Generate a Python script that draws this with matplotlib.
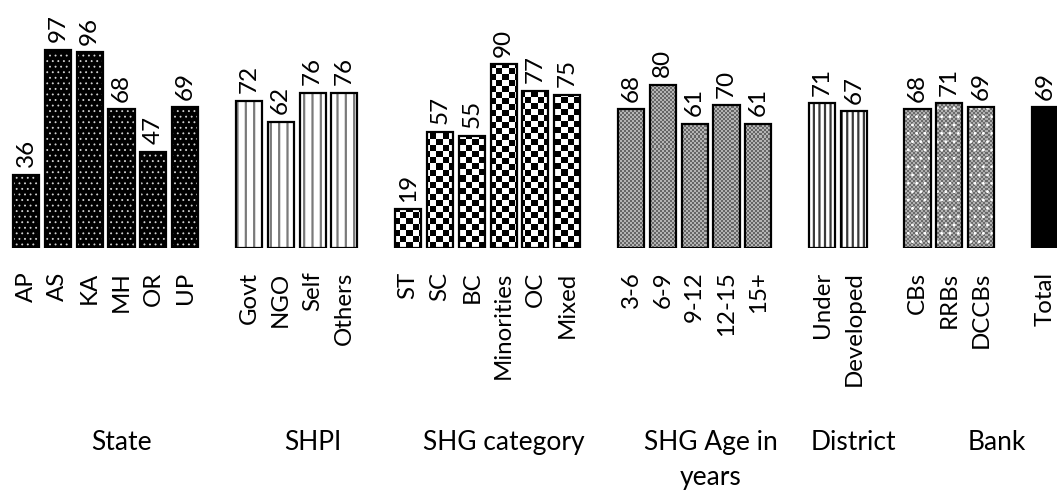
import numpy as np
import matplotlib
matplotlib.use("Agg")
import matplotlib.pyplot as plt
import matplotlib.transforms as mtransforms

plt.rcParams['font.family'] = ['Lato', 'DejaVu Sans']
plt.rcParams['hatch.linewidth'] = 1.5

# ---------------- data ----------------
group_names = ["State", "SHPI", "SHG category", "SHG Age in\nyears", "District", "Bank", ""]

state_labels = ["AP", "AS", "KA", "MH", "OR", "UP"]
state_values = [36, 97, 96, 68, 47, 69]

shpi_labels = ["Govt", "NGO", "Self", "Others"]
shpi_values = [72, 62, 76, 76]

category_labels = ["ST", "SC", "BC", "Minorities", "OC", "Mixed"]
category_values = [19, 57, 55, 90, 77, 75]

age_labels = ["3-6", "6-9", "9-12", "12-15", "15+"]
age_values = [68, 80, 61, 70, 61]

district_labels = ["Under", "Developed"]
district_values = [71, 67]

bank_labels = ["CBs", "RRBs", "DCCBs"]
bank_values = [68, 71, 69]

total_labels = ["Total"]
total_values = [69]

group_labels = [state_labels, shpi_labels, category_labels, age_labels,
                district_labels, bank_labels, total_labels]
group_values = [state_values, shpi_values, category_values, age_values,
                district_values, bank_values, total_values]

# ---------------- styles ----------------
styles = [
    dict(face="black", texture=None, hatch="...", hcolor="#d4d4d4", hlw=0.6),
    dict(face="white", texture=None, hatch="||", hcolor="#7a7a7a", hlw=1.6),
    dict(face="white", texture=(6, "#000000", "#ffffff"), hatch=None, hcolor=None, hlw=1),
    dict(face="#8c8c8c", texture=(2, "#666666", "#b4b4b4"), hatch=None, hcolor=None, hlw=1),
    dict(face="white", texture=None, hatch="|||", hcolor="#3a3a3a", hlw=1.6),
    dict(face="#8c8c8c", texture=(2, "#6a6a6a", "#b0b0b0"), hatch="..", hcolor="white", hlw=0.8),
    dict(face="black", texture=None, hatch=None, hcolor=None, hlw=1),
]

W, H = 1057, 494
slot_px = 31.84
first_px = 26.0
base_px = 248.0
unit_px = 2.04
YMAX = 100

fig = plt.figure(figsize=(W / 100, H / 100), dpi=100)
ax_h_px = YMAX * unit_px
ax = fig.add_axes([0, (H - base_px) / H, 1, ax_h_px / H])
xlim = (-first_px / slot_px, (W - first_px) / slot_px)
ax.set_xlim(*xlim)
ax.set_ylim(0, YMAX)
ax.set_axis_off()


def to_rgb(c):
    return np.array(matplotlib.colors.to_rgb(c))


def checker(cell, c1, c2):
    nx = int(np.ceil(W / cell))
    ny = int(np.ceil(ax_h_px / cell))
    m = (np.add.outer(np.arange(ny), np.arange(nx)) % 2).astype(bool)
    return np.where(m[..., None], to_rgb(c1), to_rgb(c2))


positions = []
all_labels = []
slot = 0
spans = []
for labs, vals, st in zip(group_labels, group_values, styles):
    xs = np.arange(slot, slot + len(vals))
    positions.extend(xs)
    all_labels.extend(labs)
    spans.append((slot, slot + len(vals)))
    bars = ax.bar(xs, vals, width=0.82, color=st["face"], edgecolor="none",
                  linewidth=0, zorder=1)
    if st["texture"] is not None:
        img = checker(*st["texture"])
        for p in bars.patches:
            im = ax.imshow(img, extent=(xlim[0], xlim[1], 0, YMAX), aspect="auto",
                           interpolation="nearest", zorder=2)
            im.set_clip_path(p)
    if st["hatch"] is not None:
        with plt.rc_context({"hatch.linewidth": st["hlw"]}):
            hb = ax.bar(xs, vals, width=0.82, facecolor="none", edgecolor=st["hcolor"],
                        hatch=st["hatch"], linewidth=0, zorder=3)
            for p in hb.patches:
                if hasattr(p, "set_hatch_linewidth"):
                    p.set_hatch_linewidth(st["hlw"])
    ax.bar(xs, vals, width=0.82, facecolor="none", edgecolor="black",
           linewidth=1.6, zorder=4)
    for x, v in zip(xs, vals):
        ax.annotate(f"{v}", (x, v), xytext=(0, 5.5), textcoords="offset points",
                    rotation=90, ha="center", va="bottom", fontsize=17.5,
                    annotation_clip=False, zorder=5)
    slot += len(vals) + 1

ax.set_xlim(*xlim)
ax.set_ylim(0, YMAX)

# category tick labels
for x, lab in zip(positions, all_labels):
    ax.annotate(lab, (x, 0), xytext=(0, -17), textcoords="offset points",
                rotation=90, ha="center", va="top", fontsize=17.3,
                annotation_clip=False)

# group labels (a trailing unnamed group belongs to the previous span)
trans = mtransforms.blended_transform_factory(ax.transData, ax.transAxes)
merged = []
for name, (a, b) in zip(group_names, spans):
    if name == "" and merged:
        merged[-1] = (merged[-1][0], merged[-1][1], b)
    else:
        merged.append((name, a, b))
for name, a, b in merged:
    ax.text((a + b) / 2, (base_px - 430) / ax_h_px, name, transform=trans,
            ha="center", va="top", fontsize=19, linespacing=1.5)

fig.savefig("out.png", dpi=100)
